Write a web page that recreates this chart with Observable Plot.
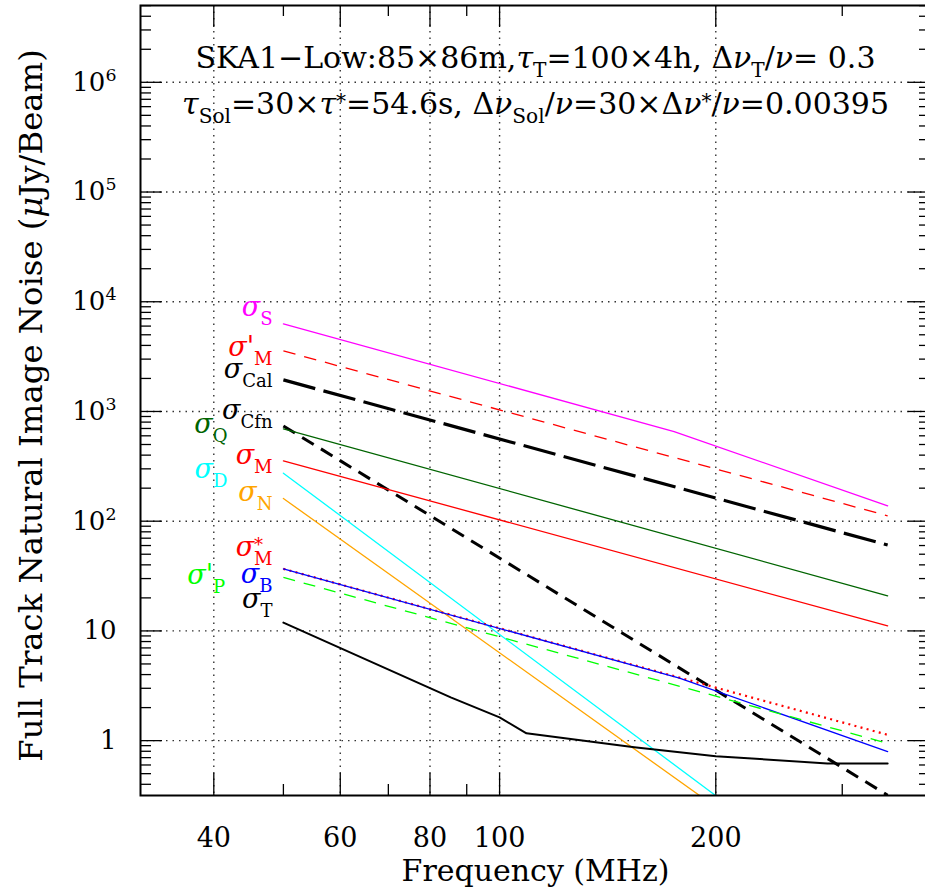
<!DOCTYPE html>
<html><head><meta charset="utf-8">
<script src="https://cdn.jsdelivr.net/npm/d3@7"></script>
<script src="https://cdn.jsdelivr.net/npm/@observablehq/plot@0.6"></script>
<style>html,body{margin:0;padding:0;background:#fff;overflow:hidden}</style>
</head><body><div id="chart"></div>
<script>
// ---------- data ----------
const freqMajor = [40, 60, 80, 100, 200];          // labelled frequency ticks (MHz)
const freqMinor = [50, 70, 90, 300];               // unlabelled frequency ticks
const noiseDecades = [1, 10, 100, 1e3, 1e4, 1e5, 1e6];

// each series: [frequency MHz, noise µJy/beam]
const sigma_S      = [[50, 6280], [175, 656], [347, 138]];
const sigma_Mprime = [[50, 3565], [347, 112]];
const sigma_Cal    = [[50, 1940], [347, 60.6]];
const sigma_Cfn    = [[50, 738], [347, 0.318]];
const sigma_Q      = [[50, 695], [347, 20.9]];
const sigma_M      = [[50, 355], [347, 11.1]];
const sigma_D      = [[50, 274], [202, 0.30]];
const sigma_N      = [[50, 161], [192, 0.30]];
const sigma_Mstar  = [[50, 36.8], [347, 1.13]];
const sigma_B      = [[50, 36.8], [178, 3.72], [347, 0.794]];
const sigma_Pprime = [[50, 30.7], [347, 0.945]];
const sigma_T      = [[50, 11.9], [85.5, 2.48], [100, 1.63], [109, 1.165], [154, 0.87], [200, 0.72], [286, 0.62], [347, 0.62]];

// curve labels
const labelNames  = ["σ_{S}", "σ'_{M}", "σ_{Cal}", "σ_{Cfn}", "σ_{Q}", "σ_{M}", "σ_{D}", "σ_{N}", "σ^{*}_{M}", "σ'_{P}", "σ_{B}", "σ_{T}"];
const labelColors = ["#ff00ff", "#ff0000", "#000000", "#000000", "#006400", "#ff0000", "#00ffff", "#ffa500", "#ff0000", "#00ff00", "#0000ff", "#000000"];
const labelFreq   = [48.3, 48.3, 48.3, 48.3, 41.8, 48.3, 41.8, 48.3, 48.3, 41.5, 48.3, 48.3];
const labelNoise  = [7430, 3210, 2023, 857, 638, 333, 248, 153, 48.4, 26.9, 27.5, 16.3];

const titleLine1 = "SKA1−Low:85×86m,τ_{T}=100×4h, Δν_{T}/ν= 0.3";
const titleLine2 = "τ_{Sol}=30×τ^{*}=54.6s, Δν_{Sol}/ν=30×Δν^{*}/ν=0.00395";
const xTitle = "Frequency (MHz)";
const yTitle = "Full Track Natural Image Noise (μJy/Beam)";

// ---------- layout ----------
const W = 925, H = 890;
const mL = 140, mR = -5, mT = 5, mB = 95;
const frameW = W - mL - mR, frameH = H - mT - mB;
const majorLen = 22, minorLen = 11;

const noiseMinor = [];
for (let e = -1; e <= 6; e++) for (let k = 2; k <= 9; k++) {
  const v = k * 10 ** e;
  if (v > 10 ** -0.5 && v < 10 ** 6.7) noiseMinor.push(v);
}

const labels = labelNames.map((t, i) => ({t, c: labelColors[i], f: labelFreq[i], v: labelNoise[i]}));

const tk = {stroke: "black", strokeWidth: 1.3};
const grid = {stroke: "#333", strokeOpacity: 1, strokeWidth: 1.4, strokeDasharray: "1.5,5"};
const ln = (data, stroke, extra = {}) =>
  Plot.line(data, {x: d => d[0], y: d => d[1], stroke, strokeWidth: 1.3, clip: true, ...extra});
const dashed = (w, da) => ({strokeWidth: w, strokeDasharray: da, strokeLinecap: "butt"});

const chart = Plot.plot({
  width: W, height: H,
  marginLeft: mL, marginRight: mR, marginTop: mT, marginBottom: mB,
  style: {fontFamily: "'DejaVu Serif', serif", background: "white", color: "black"},
  x: {type: "log", domain: [10 ** 1.5, 10 ** 2.6]},
  y: {type: "log", domain: [10 ** -0.5, 10 ** 6.7]},
  color: {type: "identity"},
  marks: [
    Plot.gridX(freqMajor, grid),
    Plot.gridY(noiseDecades, grid),
    // inward ticks on all four sides
    Plot.ruleX(freqMajor, {insetTop: frameH - majorLen, ...tk}),
    Plot.ruleX(freqMajor, {insetBottom: frameH - majorLen, ...tk}),
    Plot.ruleX(freqMinor, {insetTop: frameH - minorLen, ...tk}),
    Plot.ruleX(freqMinor, {insetBottom: frameH - minorLen, ...tk}),
    Plot.ruleY(noiseDecades, {insetRight: frameW - majorLen, ...tk}),
    Plot.ruleY(noiseDecades, {insetLeft: frameW - majorLen, ...tk}),
    Plot.ruleY(noiseMinor, {insetRight: frameW - minorLen, ...tk}),
    Plot.ruleY(noiseMinor, {insetLeft: frameW - minorLen, ...tk}),
    // curves
    ln(sigma_S, "#ff00ff"),
    ln(sigma_Mprime, "#ff0000", dashed(1.3, "12.5,9")),
    ln(sigma_Cal, "#000000", dashed(3.2, "33,8.5")),
    ln(sigma_Cfn, "#000000", dashed(3, "13.5,8.5")),
    ln(sigma_Q, "#006400"),
    ln(sigma_M, "#ff0000"),
    ln(sigma_D, "#00ffff"),
    ln(sigma_N, "#ffa500"),
    ln(sigma_Mstar, "#ff0000", dashed(2.2, "2,4.3")),
    ln(sigma_B, "#0000ff"),
    ln(sigma_Pprime, "#00ff00", dashed(1.3, "12,9")),
    ln(sigma_T, "#000000", {strokeWidth: 2}),
    // curve labels
    Plot.text(labels, {x: "f", y: "v", text: "t", fill: "c", fontSize: 27, textAnchor: "end", lineAnchor: "bottom"}),
    Plot.frame({stroke: "black", strokeWidth: 2}),
    // axes (labels only)
    Plot.axisX(freqMajor, {tickSize: 0, tickPadding: 32, fontSize: 27, tickFormat: d => `${d}`, label: null}),
    Plot.axisY(noiseDecades, {tickSize: 0, tickPadding: 24, fontSize: 26, label: null,
      tickFormat: d => d < 100 ? `${d}` : `10^{${Math.round(Math.log10(d))}}`}),
    Plot.text([xTitle], {frameAnchor: "bottom", dy: 85, lineAnchor: "bottom", fontSize: 30}),
    Plot.text([yTitle], {frameAnchor: "left", dx: -99, dy: 5, rotate: -90, textAnchor: "middle", lineAnchor: "bottom", fontSize: 32.3}),
    Plot.text([titleLine1], {frameAnchor: "top", dy: 62, lineAnchor: "bottom", fontSize: 30}),
    Plot.text([titleLine2], {frameAnchor: "top", dy: 108, lineAnchor: "bottom", fontSize: 30})
  ]
});
document.getElementById("chart").appendChild(chart);

// ---------- rich text: _{sub}, ^{sup}, italic Greek ----------
function rich(svg) {
  const NS = "http://www.w3.org/2000/svg";
  const greek = /([στνμ])/;
  svg.querySelectorAll("text").forEach(el => {
    const s = el.textContent;
    if (!/[_^]\{|[στνμ]/.test(s)) return;
    const fs = parseFloat(getComputedStyle(el).fontSize) || 20;
    const segs = [];
    const re = /([_^])\{([^}]*)\}/g;
    let last = 0, m;
    while ((m = re.exec(s))) {
      if (m.index > last) segs.push({t: s.slice(last, m.index), mode: 0});
      segs.push({t: m[2], mode: m[1] === "_" ? 1 : -1});
      last = re.lastIndex;
    }
    if (last < s.length) segs.push({t: s.slice(last), mode: 0});
    while (el.firstChild) el.removeChild(el.firstChild);
    let cur = 0, prevSup = null;
    for (const seg of segs) {
      const target = seg.mode === 1 ? 0.33 * fs : seg.mode === -1 ? -(seg.t === "*" ? 0.18 : 0.38) * fs : 0;
      const parts = seg.t.split(greek).filter(p => p);
      const made = [];
      parts.forEach((p, j) => {
        const ts = document.createElementNS(NS, "tspan");
        ts.textContent = p;
        if (seg.mode) ts.setAttribute("font-size", (0.67 * fs).toFixed(2));
        if (greek.test(p)) ts.setAttribute("font-style", "italic");
        if (j === 0) {
          const d = target - cur;
          if (d) ts.setAttribute("dy", d.toFixed(2));
          cur = target;
          if (seg.mode === 1 && prevSup) ts.setAttribute("dx", (-prevSup).toFixed(2));
        }
        el.appendChild(ts);
        made.push(ts);
      });
      prevSup = seg.mode === -1 ? made.reduce((a, t) => a + t.getComputedTextLength(), 0) : null;
    }
  });
}
rich(chart);
</script>
</body></html>
